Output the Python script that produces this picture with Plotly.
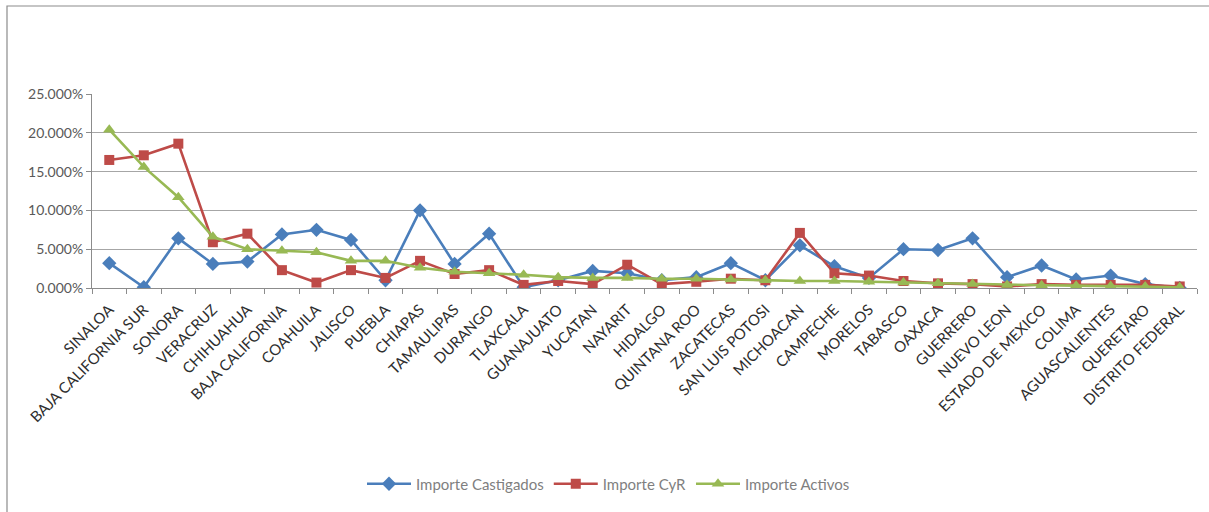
import plotly.graph_objects as go

estados = [
    "SINALOA", "BAJA CALIFORNIA SUR", "SONORA", "VERACRUZ", "CHIHUAHUA",
    "BAJA CALIFORNIA", "COAHUILA", "JALISCO", "PUEBLA", "CHIAPAS",
    "TAMAULIPAS", "DURANGO", "TLAXCALA", "GUANAJUATO", "YUCATAN", "NAYARIT",
    "HIDALGO", "QUINTANA ROO", "ZACATECAS", "SAN LUIS POTOSI", "MICHOACAN",
    "CAMPECHE", "MORELOS", "TABASCO", "OAXACA", "GUERRERO", "NUEVO LEON",
    "ESTADO DE MEXICO", "COLIMA", "AGUASCALIENTES", "QUERETARO",
    "DISTRITO FEDERAL",
]

importe_castigados = [
    3.2, 0.1, 6.4, 3.1, 3.4, 6.9, 7.5, 6.2, 1.0, 10.0,
    3.1, 7.0, 0.1, 1.0, 2.2, 1.9, 1.0, 1.4, 3.2, 1.0,
    5.5, 2.8, 1.3, 5.0, 4.9, 6.4, 1.4, 2.9, 1.1, 1.6,
    0.5, 0.0,
]

importe_cyr = [
    16.5, 17.1, 18.6, 5.9, 7.0, 2.3, 0.7, 2.3, 1.3, 3.5,
    1.8, 2.3, 0.4, 0.9, 0.5, 3.0, 0.5, 0.8, 1.2, 1.0,
    7.1, 1.9, 1.6, 0.9, 0.6, 0.5, 0.2, 0.5, 0.4, 0.4,
    0.4, 0.2,
]

importe_activos = [
    20.4, 15.6, 11.7, 6.6, 5.0, 4.8, 4.6, 3.5, 3.5, 2.6,
    2.1, 1.9, 1.7, 1.4, 1.3, 1.3, 1.2, 1.2, 1.1, 1.0,
    0.9, 0.9, 0.8, 0.7, 0.6, 0.5, 0.4, 0.35, 0.3, 0.25,
    0.2, 0.1,
]

y_ticks = [0, 5, 10, 15, 20, 25]
y_tick_labels = ["0.000%", "5.000%", "10.000%", "15.000%", "20.000%", "25.000%"]

fig = go.Figure()

series = [
    ("Importe Castigados", importe_castigados, "#4a7ebb", "diamond", 11),
    ("Importe CyR", importe_cyr, "#be4b48", "square", 10),
    ("Importe Activos", importe_activos, "#98b954", "triangle-up", 11),
]

for name, values, color, symbol, size in series:
    fig.add_trace(go.Scatter(
        x=estados, y=values, name=name, mode="lines+markers",
        line=dict(color=color, width=2.6),
        marker=dict(symbol=symbol, size=size, color=color),
    ))

W, H = 1209, 512
L, R, T, B = 92, 12, 94, 224
pw, ph = W - L - R, H - T - B

fig.update_layout(
    width=W, height=H,
    margin=dict(l=L, r=R, t=T, b=B, pad=0),
    paper_bgcolor="white", plot_bgcolor="white",
    font=dict(family="Lato, Open Sans, sans-serif", color="#595959", size=13),
    showlegend=True,
    legend=dict(
        orientation="h", x=(362 - L) / pw, xanchor="left",
        y=-(484 - (T + ph)) / ph, yanchor="middle",
        font=dict(size=15, color="#7f7f7f"),
        itemwidth=44, tracegroupgap=0,
    ),
    shapes=[
        dict(type="rect", xref="paper", yref="paper",
             x0=(7 - L) / pw, x1=(W + 20 - L) / pw,
             y0=-(H + 20 - T - ph) / ph, y1=1 + (T - 6) / ph,
             line=dict(color="#8c8c8c", width=1.2), layer="below"),
    ],
)

fig.update_xaxes(
    type="category", tickson="boundaries", ticks="outside", ticklen=5,
    tickcolor="#8c8c8c", showline=True, linecolor="#8c8c8c", linewidth=1,
    tickangle=-45, tickfont=dict(size=15, color="#2e2e2e"),
    ticklabelstandoff=6,
    showgrid=False, range=[-0.5, len(estados) - 0.5],
)

fig.update_yaxes(
    range=[0, 25], tickvals=y_ticks, ticktext=y_tick_labels,
    ticks="outside", ticklen=5, tickcolor="#8c8c8c",
    showline=True, linecolor="#8c8c8c", linewidth=1,
    showgrid=True, gridcolor="#a6a6a6", gridwidth=1.2,
    zeroline=False, tickfont=dict(size=14, color="#595959"),
)

fig.write_html("out.html")
